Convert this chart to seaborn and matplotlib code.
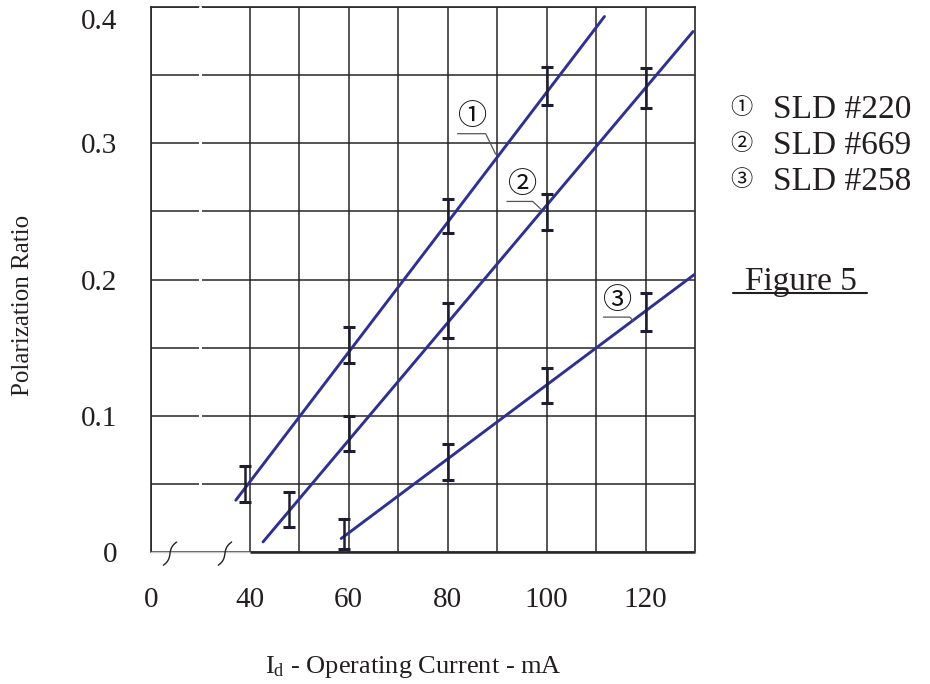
import numpy as np
import pandas as pd
import matplotlib
matplotlib.use("Agg")
import matplotlib.pyplot as plt
import matplotlib.transforms as mtransforms
from matplotlib.lines import Line2D
import seaborn as sns

# ---------------- data ----------------
series_names = ["SLD #220", "SLD #669", "SLD #258"]
circled = ["①", "②", "③"]

s1_x = [39, 60, 80, 100]
s1_lo = [0.037, 0.139, 0.234, 0.328]
s1_hi = [0.063, 0.165, 0.259, 0.356]

s2_x = [48, 60, 80, 100, 120]
s2_lo = [0.0185, 0.074, 0.157, 0.236, 0.326]
s2_hi = [0.044, 0.0995, 0.183, 0.263, 0.355]

s3_x = [59, 80, 100, 120]
s3_lo = [0.002, 0.053, 0.109, 0.162]
s3_hi = [0.024, 0.079, 0.135, 0.190]

fit1_x = [37.2, 111.7]
fit1_y = [0.038, 0.393]
fit2_x = [42.7, 129.6]
fit2_y = [0.0074, 0.382]
fit3_x = [58.5, 130.0]
fit3_y = [0.0099, 0.204]

x_tick_pos = [20, 40, 60, 80, 100, 120]
x_tick_labels = ["0", "40", "60", "80", "100", "120"]
y_tick_pos = [0, 0.1, 0.2, 0.3, 0.4]
y_tick_labels = ["0", "0.1", "0.2", "0.3", "0.4"]

label_pos = [(85.1, 0.3195), (95.1, 0.2693), (114.4, 0.1845)]
leader_x = [[82.0, 87.7, 89.7], [92.0, 97.2, 99.0], [111.5, 116.8, 117.6]]
leader_y = [[0.307, 0.307, 0.292], [0.2573, 0.2573, 0.2512], [0.1724, 0.1724, 0.1695]]

# ---------------- style ----------------
sns.set_theme(style="white")
plt.rcParams["font.family"] = ["Liberation Serif", "DejaVu Sans", "Noto Sans CJK JP"]
plt.rcParams["mathtext.fontset"] = "custom"
plt.rcParams["mathtext.rm"] = "Liberation Serif"
plt.rcParams["mathtext.it"] = "Liberation Serif:italic"

BLUE = "#2e3192"
EBAR = "#1e1e30"
GRID = "#262626"
TXT = "#231f20"

fig = plt.figure(figsize=(9.3, 6.84), dpi=100)
W, H = 930, 684
ax = fig.add_axes([150.7 / W, 1 - 552 / H, (695 - 150.7) / W, (552 - 7) / H])

# fitted lines through seaborn
df = pd.DataFrame({
    "x": fit1_x + fit2_x + fit3_x,
    "y": fit1_y + fit2_y + fit3_y,
    "series": [series_names[0]] * 2 + [series_names[1]] * 2 + [series_names[2]] * 2,
})
sns.lineplot(data=df, x="x", y="y", hue="series", palette=[BLUE] * 3,
             legend=False, ax=ax, linewidth=2.1, zorder=4, sort=True)

# error bars
for xs, lo, hi in [(s1_x, s1_lo, s1_hi), (s2_x, s2_lo, s2_hi), (s3_x, s3_lo, s3_hi)]:
    lo = np.array(lo)
    hi = np.array(hi)
    mid = (lo + hi) / 2
    ax.errorbar(xs, mid, yerr=[mid - lo, hi - mid], fmt="none", ecolor=EBAR,
                elinewidth=1.8, capsize=4, capthick=2.2, zorder=5)

# axes limits and ticks
ax.set_xlim(20, 130)
ax.set_ylim(0, 0.4)
ax.set_xticks(x_tick_pos)
ax.set_xticklabels(x_tick_labels)
ax.set_xticks(np.arange(50, 121, 20), minor=True)
ax.set_yticks(y_tick_pos)
ax.set_yticklabels(y_tick_labels)
ax.set_yticks(np.arange(0.05, 0.4, 0.1), minor=True)
ax.tick_params(axis="both", which="both", length=0)
ax.tick_params(axis="x", labelsize=21, pad=25, colors=TXT)
ax.tick_params(axis="y", labelsize=21, pad=24, colors=TXT)

ax.grid(False)
ax.grid(True, axis="x", which="both", color=GRID, linewidth=1.1)
ax.grid(True, axis="y", which="both", color=GRID, linewidth=1.1)
for sp in ["left", "top", "right"]:
    ax.spines[sp].set_color(GRID)
    ax.spines[sp].set_linewidth(1.2)
ax.spines["bottom"].set_color("#c8c8c8")
ax.spines["bottom"].set_linewidth(1.0)
ax.hlines(0, 40, 130, color=GRID, linewidth=1.8, clip_on=False, zorder=3)

# small break in the horizontal lines
ax.axvline(30, ymin=0.006, ymax=1.0, color="white", linewidth=2.2, zorder=3, clip_on=False)

# axis break marks
t = np.linspace(-1, 1, 40)
for xc in (23.9, 35.0):
    ax.plot(xc + 0.35 * t + 1.0 * t ** 3, -0.0012 + 0.0085 * t, color="#222222",
            linewidth=1.0, clip_on=False, zorder=6)

# labels
ax.set_xlabel(r"I$_{\mathrm{d}}$ - Operating Current - mA", fontsize=19, color=TXT)
ax.set_ylabel("Polarization Ratio", fontsize=18, color=TXT)
ax.xaxis.set_label_coords((413 - 150.7) / 544.3, (552 - 654) / 545)
ax.yaxis.set_label_coords((34 - 150.7) / 544.3, (552 - 305) / 545)

# shift the top y label down so it is not cut
lbl = ax.get_yticklabels()[-1]
lbl.set_transform(lbl.get_transform() + mtransforms.ScaledTranslation(0, -12 / 100, fig.dpi_scale_trans))

# circled annotations with leader lines
for (lx, ly), c, lxs, lys in zip(label_pos, circled, leader_x, leader_y):
    ax.text(lx, ly, c, fontsize=21, family=["Noto Sans CJK JP"], ha="center",
            va="center", color="#111111", zorder=7)
    ax.plot(lxs, lys, color="#555555", linewidth=0.9, zorder=6)

# legend-like text block
row_base = [118, 154, 190]
for c, name, yb in zip(circled, series_names, row_base):
    fig.text(741 / W, 1 - (yb - 11) / H, c, fontsize=16, family=["Noto Sans CJK JP"],
             ha="center", va="center", color="#111111")
    fig.text(773 / W, 1 - yb / H, name, fontsize=24, ha="left", va="baseline", color=TXT)

fig.text(745 / W, 1 - 290 / H, "Figure 5", fontsize=24, ha="left", va="baseline", color=TXT)
fig.add_artist(Line2D([733 / W, 867 / W], [1 - 293 / H, 1 - 293 / H], color=TXT, linewidth=1.5))

fig.savefig("out.png", dpi=100, facecolor="white")
